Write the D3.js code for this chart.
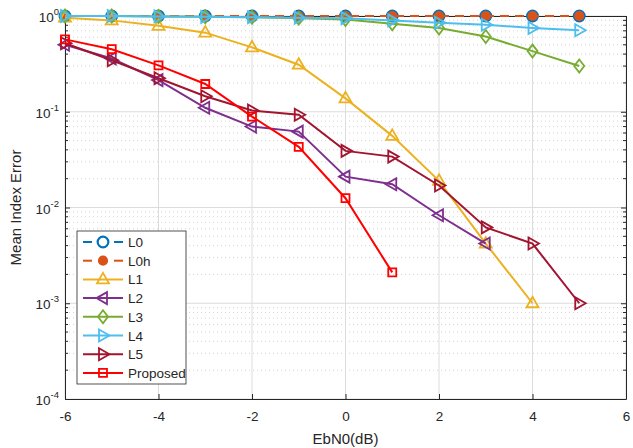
<!DOCTYPE html>
<html lang="en">
<head>
    <meta charset="UTF-8">
    <title>Mean Index Error vs EbN0</title>
    <script src="https://d3js.org/d3.v7.min.js"></script>
    <style>
        html, body {
            margin: 0;
            background: #fff;
            font-family: 'Liberation Sans', Arial, sans-serif;
        }
        svg { display: block; }
        .tick text { font-size: 13.5px; fill: #262626; font-family: 'Liberation Sans', Arial, sans-serif; }
        .domain { stroke: #262626; }
        .tick line { stroke: #262626; }
    </style>
</head>
<body>
    <svg width="633" height="448"></svg>
    <script>
        // ---- data ----
        const ebn0 = [-6, -5, -4, -3, -2, -1, 0, 1, 2, 3, 4, 5];
        const L0 = [1, 1, 1, 1, 1, 1, 1, 1, 1, 1, 1, 1];
        const L0h = [1, 1, 1, 1, 1, 1, 1, 1, 1, 1, 1, 1];
        const L1 = [0.96, 0.9, 0.79, 0.67, 0.47, 0.31, 0.138, 0.056, 0.019, 0.0042, 0.001];
        const L2 = [0.5, 0.36, 0.214, 0.11, 0.07, 0.062, 0.021, 0.0175, 0.0083, 0.0042];
        const L3 = [1, 1, 0.99, 0.98, 0.97, 0.95, 0.92, 0.83, 0.75, 0.61, 0.43, 0.30];
        const L4 = [1, 1, 0.99, 0.98, 0.97, 0.96, 0.95, 0.9, 0.85, 0.81, 0.75, 0.71];
        const L5 = [0.52, 0.345, 0.224, 0.145, 0.103, 0.093, 0.039, 0.034, 0.017, 0.0062, 0.0042, 0.001];
        const proposed = [0.57, 0.45, 0.305, 0.195, 0.089, 0.043, 0.0125, 0.0021];
        const xTicks = [-6, -4, -2, 0, 2, 4, 6];
        const yExps = [0, -1, -2, -3, -4];

        const series = [
            { name: "L0", values: L0, color: "#0072BD", marker: "circle", dashed: true },
            { name: "L0h", values: L0h, color: "#D95319", marker: "star", dashed: true },
            { name: "L1", values: L1, color: "#EDB120", marker: "up" },
            { name: "L2", values: L2, color: "#7E2F8E", marker: "left" },
            { name: "L3", values: L3, color: "#77AC30", marker: "diamond" },
            { name: "L4", values: L4, color: "#4DBEEE", marker: "right" },
            { name: "L5", values: L5, color: "#A2142F", marker: "right" },
            { name: "Proposed", values: proposed, color: "#FF0000", marker: "square" }
        ];

        const svg = d3.select("svg");
        const mLeft = 65, mRight = 626, mTop = 16, mBottom = 399;

        const x = d3.scaleLinear().domain([-6, 6]).range([mLeft, mRight]);
        const y = d3.scaleLog().domain([1e-4, 1]).range([mBottom, mTop]);

        // minor decade values for grid + ticks
        const minor = [];
        yExps.slice(0, -1).forEach(e => {
            for (let k = 2; k <= 9; k++) minor.push(k * Math.pow(10, e - 1));
        });

        // grid
        const grid = svg.append("g");
        grid.selectAll(".minor").data(minor).enter().append("line")
            .attr("x1", mLeft).attr("x2", mRight)
            .attr("y1", d => y(d)).attr("y2", d => y(d))
            .attr("stroke", "#d4d4d4").attr("stroke-width", 1)
            .attr("stroke-dasharray", "1,3");
        grid.selectAll(".hmaj").data(yExps).enter().append("line")
            .attr("x1", mLeft).attr("x2", mRight)
            .attr("y1", d => y(Math.pow(10, d))).attr("y2", d => y(Math.pow(10, d)))
            .attr("stroke", "#dcdcdc").attr("stroke-width", 1);
        grid.selectAll(".vmaj").data(xTicks).enter().append("line")
            .attr("x1", d => x(d)).attr("x2", d => x(d))
            .attr("y1", mTop).attr("y2", mBottom)
            .attr("stroke", "#dcdcdc").attr("stroke-width", 1);

        // axes (ticks pointing inward)
        svg.append("g").attr("transform", `translate(0,${mBottom})`)
            .call(d3.axisBottom(x).tickValues(xTicks).tickSizeInner(-5).tickSizeOuter(0)
                .tickPadding(12).tickFormat(d => String(d)))
            .call(g => g.selectAll(".tick text").attr("dy", "0.75em"));
        svg.append("g").attr("transform", `translate(0,${mTop})`)
            .call(d3.axisTop(x).tickValues(xTicks).tickSizeInner(-5).tickSizeOuter(0).tickFormat(""));

        svg.append("g").attr("transform", `translate(${mLeft},0)`)
            .call(d3.axisLeft(y).tickValues(yExps.map(e => Math.pow(10, e))).tickSizeInner(-5).tickSizeOuter(0).tickFormat(""));
        svg.append("g").attr("transform", `translate(${mRight},0)`)
            .call(d3.axisRight(y).tickValues(yExps.map(e => Math.pow(10, e))).tickSizeInner(-5).tickSizeOuter(0).tickFormat(""));

        // minor ticks on both sides
        [mLeft, mRight].forEach(px => {
            const dir = px === mLeft ? 1 : -1;
            svg.append("g").selectAll("line").data(minor).enter().append("line")
                .attr("x1", px).attr("x2", px + dir * 3)
                .attr("y1", d => y(d)).attr("y2", d => y(d))
                .attr("stroke", "#262626");
        });

        // y tick labels as 10^n
        const yl = svg.append("g");
        yExps.forEach(e => {
            const t = yl.append("text")
                .attr("x", mLeft - 6).attr("y", y(Math.pow(10, e)) + 6)
                .attr("text-anchor", "end")
                .attr("font-size", 13.5).attr("fill", "#262626");
            t.append("tspan").text("10");
            t.append("tspan").attr("font-size", 9.5).attr("dy", -7).text(String(e));
        });

        d3.selectAll(".domain").attr("stroke", "#262626");

        // axis labels
        svg.append("text")
            .attr("x", (mLeft + mRight) / 2).attr("y", 444)
            .attr("text-anchor", "middle").attr("font-size", 15).attr("fill", "#262626")
            .text("EbN0(dB)");
        svg.append("text")
            .attr("transform", `translate(21,${(mTop + mBottom) / 2}) rotate(-90)`)
            .attr("text-anchor", "middle").attr("font-size", 15).attr("fill", "#262626")
            .text("Mean Index Error");

        // marker shapes
        function markerPath(type) {
            switch (type) {
                case "up": return "M0,-6.5L6,4L-6,4Z";
                case "left": return "M-6.5,0L4,-6L4,6Z";
                case "right": return "M6.5,0L-4,-6L-4,6Z";
                case "diamond": return "M0,-6.5L5,0L0,6.5L-5,0Z";
                case "square": return "M-4,-4H4V4H-4Z";
                case "circle": return d3.symbol(d3.symbolCircle, 90)();
                case "star": return d3.symbol(d3.symbolCircle, 55)();
            }
        }

        function drawMarker(g, s) {
            g.append("path")
                .attr("d", markerPath(s.marker))
                .attr("fill", s.marker === "star" ? s.color : "none")
                .attr("stroke", s.color)
                .attr("stroke-width", s.marker === "circle" ? 2.2 : 1.8);
        }

        const line = d3.line().x((d, i) => x(ebn0[i])).y(d => y(d));

        const plot = svg.append("g");
        series.forEach(s => {
            plot.append("path")
                .datum(s.values)
                .attr("d", line)
                .attr("fill", "none")
                .attr("stroke", s.color)
                .attr("stroke-width", 2)
                .attr("stroke-dasharray", s.dashed ? "9,6" : null);
            plot.append("g").selectAll("g").data(s.values).enter().append("g")
                .attr("transform", (d, i) => `translate(${x(ebn0[i])},${y(d)})`)
                .each(function () { drawMarker(d3.select(this), s); });
        });

        // legend
        const lg = svg.append("g").attr("transform", "translate(77,231)");
        lg.append("rect").attr("width", 109).attr("height", 153)
            .attr("fill", "#fff").attr("stroke", "#262626").attr("stroke-width", 0.8);
        series.forEach((s, i) => {
            const row = lg.append("g").attr("transform", `translate(0,${11 + i * 18.7})`);
            if (s.dashed) {
                row.append("line").attr("x1", 6).attr("x2", 15).attr("stroke", s.color).attr("stroke-width", 2);
                row.append("line").attr("x1", 37).attr("x2", 46).attr("stroke", s.color).attr("stroke-width", 2);
            } else {
                row.append("line").attr("x1", 6).attr("x2", 46).attr("stroke", s.color).attr("stroke-width", 2);
            }
            drawMarker(row.append("g").attr("transform", "translate(26,0)"), s);
            row.append("text").attr("x", 51).attr("y", 5)
                .attr("font-size", 13.5).attr("fill", "#262626").text(s.name);
        });
    </script>
</body>
</html>
